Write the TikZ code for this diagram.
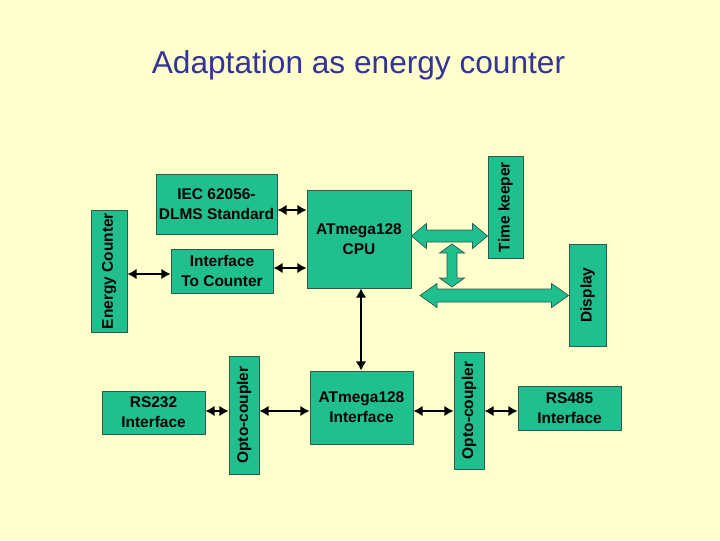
\documentclass[tikz,border=0pt]{standalone}
\usepackage{fontspec}
\setmainfont{Liberation Sans}
\usetikzlibrary{arrows.meta,calc}
\definecolor{slidebg}{HTML}{FFFFCC}
\definecolor{slideblue}{HTML}{333399}
\definecolor{blockgreen}{HTML}{1FBF8F}
\definecolor{blockedge}{HTML}{2D5A4C}

\begin{document}
\begin{tikzpicture}[x=0.025cm,y=-0.025cm,>={Latex[length=6.5pt,width=7.5pt]}]
  \tikzstyle{block}=[fill=blockgreen, draw=blockedge, line width=0.6pt, inner sep=0pt,
    font=\fontsize{11pt}{14pt}\selectfont\bfseries, align=center]
  \tikzstyle{upright}=[block, rotate=90]
  \tikzstyle{link}=[<->, line width=1.6pt]
  \tikzstyle{bus}=[fill=blockgreen, draw=blockedge, line width=0.5pt, line join=miter]

  \fill[slidebg] (0,0) rectangle (720,540);
  \useasboundingbox (0,0) rectangle (720,540);
  \node[font=\fontsize{22.5pt}{27pt}\selectfont, text=slideblue, anchor=base] (title) at (358.5,73)
    {Adaptation as energy counter};

  \node[block, minimum width=3.025cm, minimum height=1.5cm] (iec) at (216.5,204) {IEC 62056-\\DLMS Standard};
  \node[block, minimum width=2.55cm, minimum height=1.1cm] (itc) at (222,271) {Interface\\To Counter};
  \node[block, minimum width=2.6cm, minimum height=2.45cm] (cpu) at (359,239) {ATmega128\\CPU};
  \node[block, minimum width=2.575cm, minimum height=1.075cm] (rsa) at (153.5,412.5) {RS232\\Interface};
  \node[block, minimum width=2.575cm, minimum height=1.825cm] (ami) at (361.5,407.5) {ATmega128\\Interface};
  \node[block, minimum width=2.575cm, minimum height=1.1cm] (rsb) at (569.5,408) {RS485\\Interface};

  \node[upright, minimum width=3.05cm, minimum height=0.9cm] (ec) at (109,271) {Energy Counter};
  \node[upright, minimum width=2.55cm, minimum height=0.875cm] (tk) at (505.5,207) {Time keeper};
  \node[upright, minimum width=2.55cm, minimum height=0.925cm] (disp) at (587.5,295) {Display};
  \node[upright, minimum width=2.95cm, minimum height=0.75cm] (optl) at (244,415) {Opto-coupler};
  \node[upright, minimum width=2.925cm, minimum height=0.75cm] (optr) at (469,410.5) {Opto-coupler};

  \draw[link] (iec.east |- 0,210) -- (cpu.west |- 0,210);
  \draw[link] (itc.east |- 0,268) -- (cpu.west |- 0,268);
  \draw[link] (ec.south |- 0,274) -- (itc.west |- 0,274);
  \draw[link, line width=1.2pt] (cpu.south -| 361,0) -- (ami.north -| 361,0);
  \draw[link] (rsa.east |- 0,411) -- (optl.north |- 0,411);
  \draw[link] (optl.south |- 0,411) -- (ami.west |- 0,411);
  \draw[link] (ami.east |- 0,411) -- (optr.north |- 0,411);
  \draw[link] (optr.south |- 0,411) -- (rsb.west |- 0,411);

  \draw[bus] (cpu.east |- 0,236) -- ++(15,-12.5) -- ++(0,6.5) -- ($(tk.north |- 0,230)+(-15,0)$)
    -- ++(0,-6.5) -- (tk.north |- 0,236) -- ++(-15,12.5) -- ++(0,-6.5)
    -- ($(cpu.east |- 0,242)+(15,0)$) -- ++(0,6.5) -- cycle;
  \draw[bus] (452,244) -- ++(12.5,9) -- ++(-7.5,0) -- (457,278) -- ++(7.5,0) -- (452,287)
    -- ++(-12.5,-9) -- ++(7.5,0) -- (447,253) -- ++(-7.5,0) -- cycle;
  \draw[bus] (420,295.5) -- ++(17,-12) -- ++(0,5.5) -- ($(disp.north |- 0,289)+(-17,0)$)
    -- ++(0,-5.5) -- (disp.north |- 0,295.5) -- ++(-17,12) -- ++(0,-5.5)
    -- (437,302) -- ++(0,5.5) -- cycle;
\end{tikzpicture}
\end{document}
